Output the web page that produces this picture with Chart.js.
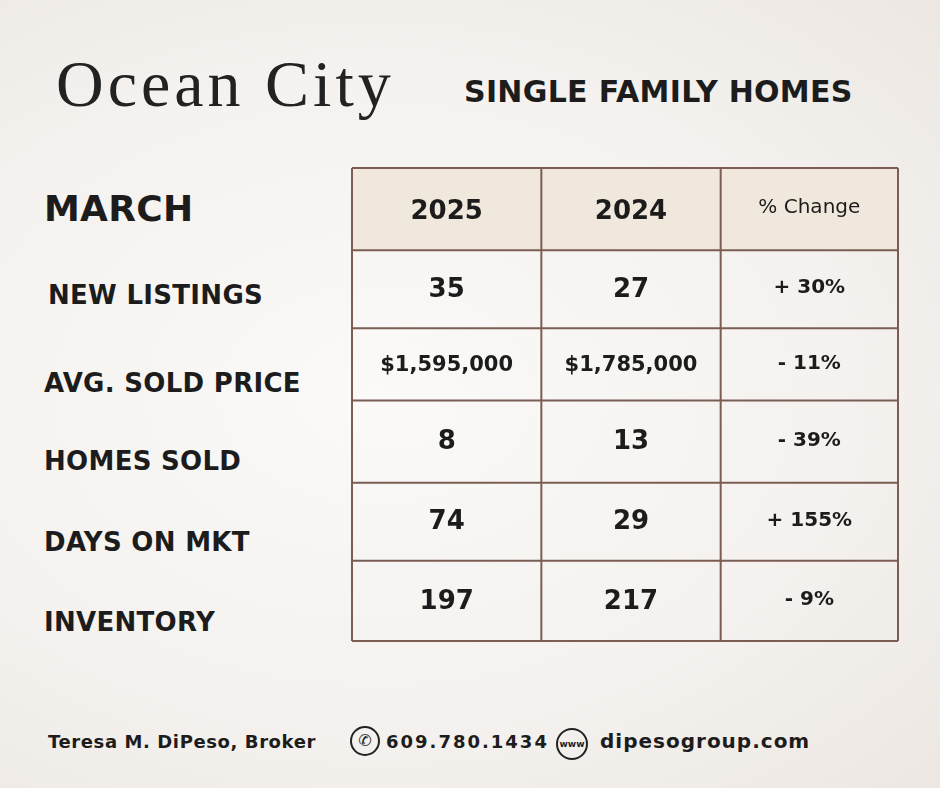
<!DOCTYPE html>
<html><head><meta charset="utf-8">
<script src="https://cdn.jsdelivr.net/npm/chart.js@4"></script>
<style>
html,body{margin:0;padding:0}
body{width:940px;height:788px;position:relative;overflow:hidden;
background:radial-gradient(ellipse at 40% 50%,#fbfaf8 0%,#f4f1ee 60%,#ece7e3 100%);font-family:"DejaVu Sans",sans-serif;color:#1c1c1c}
.t{position:absolute;white-space:nowrap}
.lab{font-weight:700;font-size:26px;left:44px;letter-spacing:0.3px}
#wrap{position:absolute;left:349px;top:165px;width:552px;height:479px}
</style></head><body>
<div class="t" style="left:56px;top:46px;font-family:'Liberation Serif',serif;font-size:66px;letter-spacing:4px;color:#222">Ocean City</div>
<div class="t" style="left:464px;top:74px;font-weight:700;font-size:30px;letter-spacing:0.3px">SINGLE FAMILY HOMES</div>
<div class="t lab" style="top:188px;font-size:36px">MARCH</div>
<div class="t lab" style="top:280px;left:48px">NEW LISTINGS</div>
<div class="t lab" style="top:368px">AVG. SOLD PRICE</div>
<div class="t lab" style="top:446px">HOMES SOLD</div>
<div class="t lab" style="top:527px">DAYS ON MKT</div>
<div class="t lab" style="top:607px">INVENTORY</div>
<div class="t" style="left:48px;top:731px;font-size:18px;font-weight:700;letter-spacing:0.6px">Teresa M. DiPeso, Broker</div>
<div class="t" style="left:350px;top:726px;width:26px;height:26px;border:2px solid #222;border-radius:50%;font-size:16px;text-align:center;line-height:26px">&#9990;</div>
<div class="t" style="left:386px;top:731px;font-size:18px;font-weight:700;letter-spacing:2px">609.780.1434</div>
<div class="t" style="left:556px;top:728px;width:28px;height:28px;border:2px solid #222;border-radius:50%;font-size:9px;text-align:center;line-height:28px;font-weight:700">www</div>
<div class="t" style="left:600px;top:729px;font-size:20px;font-weight:700;letter-spacing:1px">dipesogroup.com</div>
<div id="wrap"><canvas id="c"></canvas></div>
<script>
const columns=["2025","2024","% Change"];
const rowKeys=["header","New Listings","Avg. Sold Price","Homes Sold","Days on Mkt","Inventory"];
const values2025=["35","$1,595,000","8","74","197"];
const values2024=["27","$1,785,000","13","29","217"];
const pctChange=["+ 30%","- 11%","- 39%","+ 155%","- 9%"];
const colBounds=[0,189,368,545];
const rowBounds=[0,82,160,232,314,392,472];
const F='"DejaVu Sans"';
const tablePlugin={id:'table',afterDraw(ch){
 const x=ch.scales.x,y=ch.scales.y,c=ch.ctx;
 const X=v=>x.getPixelForValue(v),Y=v=>y.getPixelForValue(v);
 c.save();
 c.fillStyle='#f0e8dc';c.fillRect(X(0),Y(0),X(545)-X(0),Y(82)-Y(0));
 c.strokeStyle='#7b5d54';c.lineWidth=2;
 colBounds.forEach(v=>{c.beginPath();c.moveTo(X(v),Y(0));c.lineTo(X(v),Y(472));c.stroke();});
 rowBounds.forEach(v=>{c.beginPath();c.moveTo(X(0),Y(v));c.lineTo(X(545),Y(v));c.stroke();});
 c.fillStyle='#1c1c1c';c.textAlign='center';c.textBaseline='middle';
 const cx=i=>X((colBounds[i]+colBounds[i+1])/2);
 const cy=j=>Y((rowBounds[j]+rowBounds[j+1])/2);
 columns.forEach((t,i)=>{c.font=(i==2?'500 20px ':'700 26px ')+F;c.fillText(t,cx(i),cy(0)+(i==2?-1:3));});
 [values2025,values2024,pctChange].forEach((arr,i)=>arr.forEach((t,j)=>{
  c.font=(i==2?'700 20px ':(t.length>5?'700 21px ':'700 26px '))+F;
  c.fillText(t,cx(i),cy(j+1)+(i==2?-1:1));
 }));
 c.restore();}};
new Chart(document.getElementById('c'),{type:'scatter',data:{datasets:[{data:[]}]},
 options:{responsive:true,maintainAspectRatio:false,animation:false,layout:{padding:3},
 plugins:{legend:{display:false},tooltip:{enabled:false}},
 scales:{x:{type:'linear',min:0,max:545,display:false},y:{type:'linear',min:0,max:472,reverse:true,display:false}}},
 plugins:[tablePlugin]});
</script></body></html>
